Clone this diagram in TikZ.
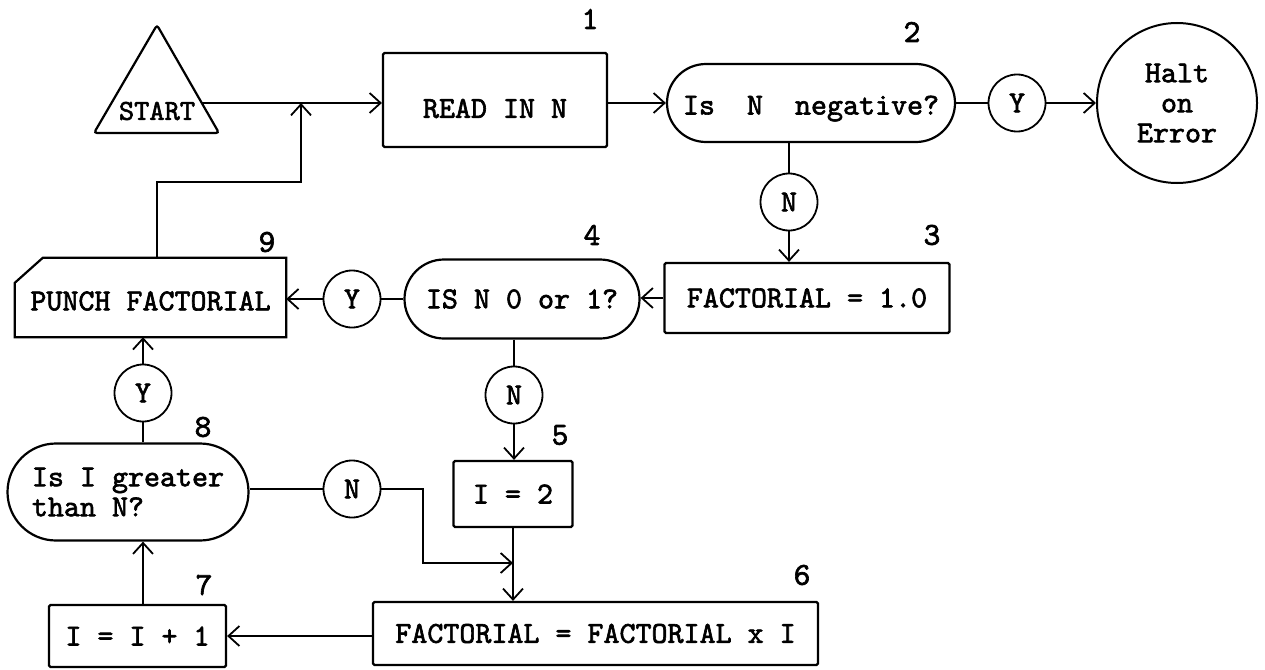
\documentclass[tikz,border=0pt]{standalone}
\usepackage{fontspec}
\setmonofont{lmmono10-regular.otf}[AutoFakeBold=2]
\usetikzlibrary{arrows.meta,calc,shapes.misc}
\begin{document}
\begin{tikzpicture}[x=1pt,y=-1pt,
  every node/.style={font=\ttfamily\bfseries\fontsize{30.5}{30}\selectfont, inner sep=0pt},
  box/.style={draw, line width=2.2pt, rectangle, rounded corners=1.5pt},
  stad/.style={draw, line width=2.2pt, rounded rectangle},
  conn/.style={draw, line width=1.8pt, circle, minimum size=57pt},
  num/.style={font=\ttfamily\bfseries\fontsize{32}{30}\selectfont},
  line/.style={line width=1.8pt},
  arr/.style={line width=1.8pt, -{Straight Barb[length=11pt,width=20pt]}},
]
\useasboundingbox (0,0) rectangle (1265,669);

% START triangle
\coordinate (tA) at (157,25);
\coordinate (tB) at (94,133);
\coordinate (tC) at (219,133);
\draw[line width=2.2pt, rounded corners=3pt] (tA) -- (tB) -- (tC) -- cycle;
\node[font=\ttfamily\bfseries\fontsize{29}{30}\selectfont] (start) at (157,111) {START};
\coordinate (sOut) at ($(tA)!0.722!(tC)$);

% nodes
\node[box, minimum width=224pt, minimum height=94pt, text height=36pt] (read) at (495,100) {READ IN N};
\node[stad, minimum width=288pt, minimum height=78pt, text height=30pt] (neg) at (811,103) {Is\ \ N\ \ negative?};
\node[conn] (y1) at (1017,103) {Y};
\node[draw, line width=2pt, circle, minimum size=160pt, align=center] (halt) at (1177,103) {Halt\\on\\Error};
\node[conn] (n1) at (789,202) {N};
\node[box, minimum width=285pt, minimum height=70pt] (fact1) at (807,298) {FACTORIAL = 1.0};
\node[stad, minimum width=235pt, minimum height=79pt] (isn0) at (522,299) {IS N 0 or 1?};
\node[conn] (y2) at (352,299) {Y};
\node[minimum width=271pt, minimum height=79pt, text height=26pt] (punch) at (150.5,297.5) {PUNCH FACTORIAL};
\draw[line width=2.2pt] ([xshift=28pt]punch.north west) -- (punch.north east) -- (punch.south east) -- (punch.south west) -- ([yshift=-25pt]punch.north west) -- cycle;
\node[conn] (n2) at (514,395) {N};
\node[conn] (y3) at (143,393) {Y};
\node[stad, minimum width=241pt, minimum height=97pt, align=left] (greater) at (128,492) {Is I greater\\than N?\hphantom{\ \ \ \ \ }};
\node[conn] (n3) at (352,489) {N};
\node[box, minimum width=119pt, minimum height=66pt] (i2) at (513,494) {I = 2};
\node[box, minimum width=445pt, minimum height=63pt] (factI) at (595.5,633.5) {FACTORIAL = FACTORIAL x I};
\node[box, minimum width=177pt, minimum height=62pt] (iinc) at (137.5,636) {I = I + 1};

% step numbers
\node[num] (l1) at (590,19) {1};
\node[num] (l2) at (912,32) {2};
\node[num] (l3) at (932,235) {3};
\node[num] (l4) at (592,235) {4};
\node[num] (l5) at (560,435) {5};
\node[num] (l6) at (802,575) {6};
\node[num] (l7) at (204,585) {7};
\node[num] (l8) at (203,427) {8};
\node[num] (l9) at (267,242) {9};

% connectors
\coordinate (j1) at (301,103);
\coordinate (up) at (157,182);
\coordinate (j2) at (513,563);
\coordinate (k) at (423,563);

\draw[arr] (sOut) -- (sOut -| read.west);
\draw[arr] (punch.north -| up) -- (up) -| (j1);
\draw[arr] (read.east |- neg.west) -- (neg.west);
\draw[line] (neg.east) -- (y1.west);
\draw[arr] (y1.east) -- (halt.west);
\draw[line] (neg.south -| n1.north) -- (n1.north);
\draw[arr] (n1.south) -- (n1.south |- fact1.north);
\draw[arr] (fact1.west) -- (fact1.west -| isn0.east);
\draw[line] (isn0.west) -- (y2.east);
\draw[arr] (y2.west) -- (y2.west -| punch.east);
\draw[line] (isn0.south -| n2.north) -- (n2.north);
\draw[arr] (n2.south) -- (n2.south |- i2.north);
\draw[arr] (i2.south) -- (i2.south |- factI.north);
\draw[line] (greater.east |- n3.west) -- (n3.west);
\draw[arr] (n3.east) -| (k) -- (j2);
\draw[arr] (factI.west |- iinc.east) -- (iinc.east);
\draw[arr] (iinc.north -| y3.south) -- (y3.south |- greater.south);
\draw[line] (greater.north -| y3.south) -- (y3.south);
\draw[arr] (y3.north) -- (y3.north |- punch.south);
\end{tikzpicture}
\end{document}
